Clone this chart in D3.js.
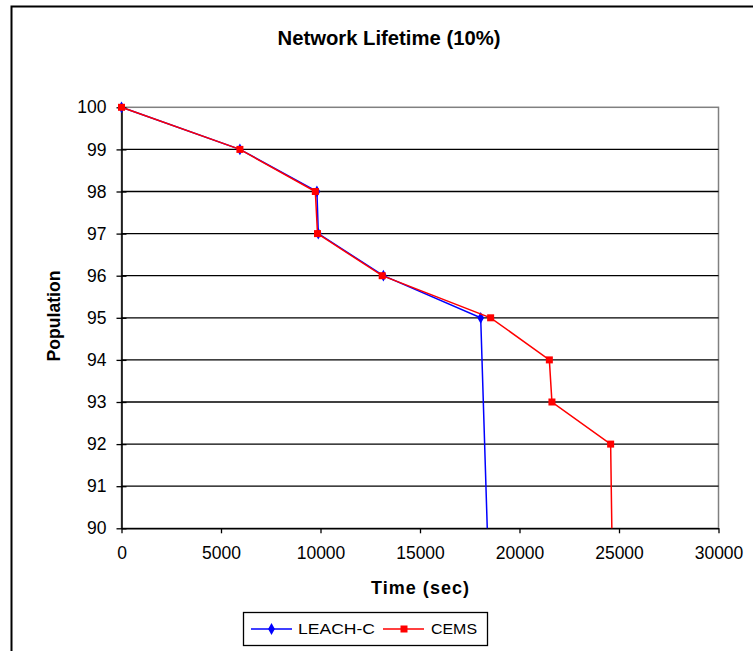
<!DOCTYPE html>
<html><head><meta charset="utf-8">
<script src="https://cdn.jsdelivr.net/npm/d3@7"></script>
<style>body{margin:0;background:#fff}svg{display:block;font-family:"Liberation Sans",Arial,sans-serif}</style>
</head><body>
<svg id="c" width="753" height="651"></svg>
<script>
const title = "Network Lifetime (10%)";
const xLabel = "Time (sec)";
const yLabel = "Population";
const xTicks = [0,5000,10000,15000,20000,25000,30000];
const yTicks = [90,91,92,93,94,95,96,97,98,99,100];
const leachX = [0, 5950, 9820, 9890, 13160, 18050, 18380];
const leachY = [100, 99, 98, 97, 96, 95, 90];
const cemsX = [0, 5950, 9740, 9850, 13100, 18550, 21500, 21630, 24580, 24640];
const cemsY = [100, 99, 98, 97, 96, 95, 94, 93, 92, 90];
const seriesNames = ["LEACH-C", "CEMS"];
const seriesColors = ["#0000ff", "#ff0000"];

const svg = d3.select("#c");
const FF = "Liberation Sans, Arial, sans-serif";
// outer frame
svg.append("rect").attr("x",11.5).attr("y",6.5).attr("width",760).attr("height",660)
  .attr("fill","none").attr("stroke","#000").attr("stroke-width",2);

const L=121.5, R=718.5, T=107.3, B=528.3;
const x = d3.scaleLinear().domain([0,30000]).range([L,R]);
const y = d3.scaleLinear().domain([90,100]).range([B,T]);

// plot border (gray)
svg.append("rect").attr("x",L).attr("y",T).attr("width",R-L).attr("height",B-T)
  .attr("fill","none").attr("stroke","#808080").attr("stroke-width",1.5);
// gridlines
svg.append("g").selectAll("line").data(yTicks.filter(d=>d>90 && d<100)).join("line")
  .attr("x1",L).attr("x2",R).attr("y1",d=>y(d)).attr("y2",d=>y(d))
  .attr("stroke","#000").attr("stroke-width",1.3);

// axes
const xa = svg.append("g").attr("transform",`translate(0,${B})`)
  .call(d3.axisBottom(x).tickValues(xTicks).tickSize(5).tickPadding(13).tickSizeOuter(0).tickFormat(d3.format("d")));
const ya = svg.append("g").attr("transform",`translate(${L},0)`)
  .call(d3.axisLeft(y).tickValues(yTicks).tickSize(5).tickPadding(10).tickSizeOuter(0).tickFormat(d3.format("d")));
ya.selectAll(".tick line").attr("x1",5).attr("x2",-5);
[xa,ya].forEach(a=>{
  a.select(".domain").attr("stroke","#000").attr("stroke-width",1.5);
  a.selectAll(".tick line").attr("stroke","#000").attr("stroke-width",1.3);
  a.selectAll("text").attr("font-size",17.5).attr("fill","#000").attr("font-family",FF);
});

// series
const line = d3.line().x(d=>x(d[0])).y(d=>y(d[1]));
const leach = leachX.map((v,i)=>[v,leachY[i]]);
const cems = cemsX.map((v,i)=>[v,cemsY[i]]);

svg.append("path").datum(leach).attr("d",line).attr("fill","none").attr("stroke",seriesColors[0]).attr("stroke-width",1.5);
svg.append("g").selectAll("path").data(leach.slice(0,-1)).join("path")
  .attr("d",d3.symbol(d3.symbolDiamond,40)())
  .attr("transform",d=>`translate(${x(d[0])},${y(d[1])})`).attr("fill",seriesColors[0]);

svg.append("path").datum(cems).attr("d",line).attr("fill","none").attr("stroke",seriesColors[1]).attr("stroke-width",1.5);
svg.append("g").selectAll("rect").data(cems.slice(0,-1)).join("rect")
  .attr("x",d=>x(d[0])-3.5).attr("y",d=>y(d[1])-3.5).attr("width",7).attr("height",7)
  .attr("fill",seriesColors[1]);

// labels
svg.append("text").attr("x",389).attr("y",45).attr("text-anchor","middle")
  .attr("font-weight","bold").attr("font-size",20).attr("textLength",223).attr("lengthAdjust","spacingAndGlyphs").text(title);
svg.append("text").attr("x",420).attr("y",594).attr("text-anchor","middle")
  .attr("font-weight","bold").attr("font-size",18).attr("textLength",98).attr("lengthAdjust","spacing").text(xLabel);
svg.append("text").attr("transform","translate(60,316) rotate(-90)").attr("text-anchor","middle")
  .attr("font-weight","bold").attr("font-size",18).attr("textLength",91).attr("lengthAdjust","spacingAndGlyphs").text(yLabel);

// legend
const lg = svg.append("g");
lg.append("rect").attr("x",243.5).attr("y",612.5).attr("width",244).attr("height",33)
  .attr("fill","#fff").attr("stroke","#000").attr("stroke-width",1.3);
lg.append("line").attr("x1",251).attr("x2",292).attr("y1",629).attr("y2",629).attr("stroke",seriesColors[0]).attr("stroke-width",1.5);
lg.append("path").attr("d",d3.symbol(d3.symbolDiamond,40)()).attr("transform","translate(271.5,629)").attr("fill",seriesColors[0]);
lg.append("text").attr("x",298).attr("y",634).attr("font-size",15).attr("textLength",77).attr("lengthAdjust","spacingAndGlyphs").text(seriesNames[0]);
lg.append("line").attr("x1",383).attr("x2",424).attr("y1",629).attr("y2",629).attr("stroke",seriesColors[1]).attr("stroke-width",1.5);
lg.append("rect").attr("x",400.5).attr("y",625.5).attr("width",7).attr("height",7).attr("fill",seriesColors[1]);
lg.append("text").attr("x",431).attr("y",634).attr("font-size",15).attr("textLength",46).attr("lengthAdjust","spacingAndGlyphs").text(seriesNames[1]);
</script>
</body></html>
